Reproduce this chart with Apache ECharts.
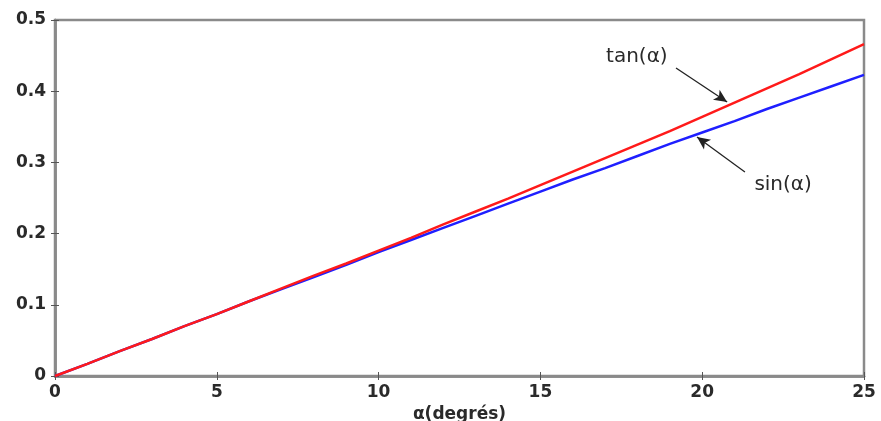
<!DOCTYPE html>
<html><head><meta charset="utf-8">
<script src="https://cdn.jsdelivr.net/npm/echarts@6/dist/echarts.min.js"></script>
<style>html,body{margin:0;padding:0;background:#fff}#c{width:881px;height:421px}</style>
</head><body><div id="c"></div>
<script>
const degrees = [0,1,2,3,4,5,6,7,8,9,10,11,12,13,14,15,16,17,18,19,20,21,22,23,24,25];
const sinValues = [0,0.017,0.035,0.052,0.070,0.087,0.105,0.122,0.139,0.156,0.174,0.191,0.208,0.225,0.242,0.259,0.276,0.292,0.309,0.326,0.342,0.358,0.375,0.391,0.407,0.423];
const tanValues = [0,0.017,0.035,0.052,0.070,0.087,0.105,0.123,0.141,0.158,0.176,0.194,0.213,0.231,0.249,0.268,0.287,0.306,0.325,0.344,0.364,0.384,0.404,0.424,0.445,0.466];
const xTicks = [0,5,10,15,20,25];
const yTicks = [0,0.1,0.2,0.3,0.4,0.5];
const tanArrow = [[19.19,0.4326],[20.77,0.3848]];
const sinArrow = [[21.32,0.2865],[19.84,0.3357]];
const tanLabel = {text:'tan(α)', at:[17.98,0.448]};
const sinLabel = {text:'sin(α)', at:[22.5,0.268]};

const chart = echarts.init(document.getElementById('c'));
const FONT = 'DejaVu Sans, Arial, sans-serif';
const labelFont = {fontFamily:FONT, fontSize:17, fontWeight:'bold', color:'#2a2a2a'};
const axisLineStyle = {color:'#8a8a8a', width:2.5};
const tickStyle = {show:true, inside:true, length:4, lineStyle:{color:'#555', width:1}};
function pairs(xs, ys){ return xs.map((x,i)=>[x, ys[i]]); }
function arrow(a){ return [{coord:a[0], symbol:'none'},{coord:a[1], symbol:'arrow'}]; }
function txt(l){ return {coord:l.at, value:l.text}; }
const annLabel = {show:true, position:'inside', formatter:p=>p.value, fontFamily:FONT, fontSize:20, color:'#2a2a2a'};

chart.setOption({
  animation:false,
  grid:{left:55, right:17, top:20, bottom:45, containLabel:false, outerBoundsMode:'none', show:true, borderColor:'#8a8a8a', borderWidth:2.5},
  xAxis:[{
    type:'value', min:0, max:25, interval:5,
    name:'α(degrés)', nameLocation:'middle', nameGap:27,
    nameTextStyle:{fontFamily:FONT, fontSize:17, fontWeight:'bold', color:'#2a2a2a'},
    axisLine:{show:true, lineStyle:axisLineStyle},
    axisTick:tickStyle,
    axisLabel:Object.assign({margin:8, formatter:v=>xTicks.includes(v)?String(v):''}, labelFont),
    splitLine:{show:false}
  },{
    type:'value', min:0, max:25, interval:5, position:'top',
    axisLine:{show:true, lineStyle:axisLineStyle},
    axisTick:tickStyle, axisLabel:{show:false}, splitLine:{show:false}
  }],
  yAxis:[{
    type:'value', min:0, max:0.5, interval:0.1,
    axisLine:{show:true, lineStyle:axisLineStyle},
    axisTick:tickStyle,
    axisLabel:Object.assign({margin:9, formatter:v=>{const t=yTicks.find(y=>Math.abs(y-v)<1e-9); return t===undefined?'':(t===0?'0':String(+t.toFixed(1)));}}, labelFont),
    splitLine:{show:false}
  },{
    type:'value', min:0, max:0.5, interval:0.1, position:'right',
    axisLine:{show:true, lineStyle:axisLineStyle},
    axisTick:tickStyle, axisLabel:{show:false}, splitLine:{show:false}
  }],
  series:[{
    type:'line', name:'sin', data:pairs(degrees, sinValues), showSymbol:false,
    lineStyle:{color:'#1f1fff', width:2.5}, z:2,
    markLine:{silent:true, symbolSize:[9,13], animation:false, label:{show:false},
      lineStyle:{color:'#222', width:1.3, type:'solid'}, data:[arrow(sinArrow)]},
    markPoint:{silent:true, symbol:'circle', symbolSize:0, data:[txt(sinLabel)], label:annLabel}
  },{
    type:'line', name:'tan', data:pairs(degrees, tanValues), showSymbol:false,
    lineStyle:{color:'#ff1a1a', width:2.5}, z:3,
    markLine:{silent:true, symbolSize:[9,13], animation:false, label:{show:false},
      lineStyle:{color:'#222', width:1.3, type:'solid'}, data:[arrow(tanArrow)]},
    markPoint:{silent:true, symbol:'circle', symbolSize:0, data:[txt(tanLabel)], label:annLabel}
  }]
});
</script></body></html>
